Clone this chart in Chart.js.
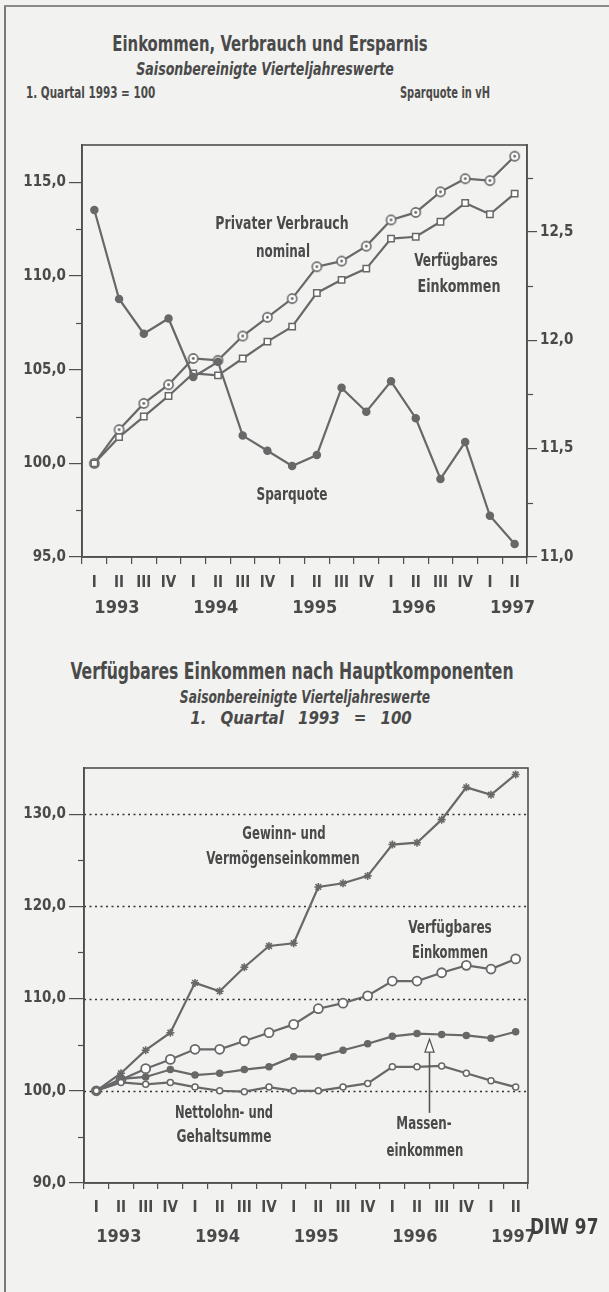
<!DOCTYPE html>
<html>
<head>
<meta charset="utf-8">
<script src="https://cdn.jsdelivr.net/npm/chart.js@4.4.1/dist/chart.umd.min.js"></script>
<style>
  html, body { margin: 0; padding: 0; background: #f2f2f0; }
  #page { position: relative; width: 609px; height: 1292px; overflow: hidden;
          font-family: "Liberation Sans Narrow", "DejaVu Sans Condensed", "Roboto", sans-serif; color: #4a4a4a; }
  #page canvas { position: absolute; left: 0; }
  .t { position: absolute; white-space: nowrap; line-height: 1; font-weight: bold; transform-origin: 0 0; }
  .c { transform-origin: 50% 0; transform: translateX(-50%); text-align: center; }
  .frameL { position: absolute; left: 4px; top: 5px; width: 2px; height: 1300px; background: #7a7a7a; }
  .frameT { position: absolute; left: 4px; top: 5px; width: 620px; height: 2px; background: #8a8a8a; }
</style>
</head>
<body>
<div id="page">
  <div class="frameL"></div>
  <div class="frameT"></div>

  <div class="t c" data-w="315" style="left:270px; top:33px; font-size:22px;">Einkommen, Verbrauch und Ersparnis</div>
  <div class="t c" data-w="257" style="left:265px; top:61px; font-size:17px; font-style:italic;">Saisonbereinigte Vierteljahreswerte</div>
  <div class="t" data-w="129" style="left:26px; top:86px; font-size:15px;">1. Quartal 1993 = 100</div>
  <div class="t" data-w="90" style="left:400px; top:86px; font-size:15px;">Sparquote in vH</div>

  <canvas id="top" width="609" height="490" style="top:130px;"></canvas>

  <div class="t c" data-w="133" style="left:282px; top:215px; font-size:17px;">Privater Verbrauch</div>
  <div class="t c" data-w="54" style="left:283px; top:243px; font-size:17px;">nominal</div>
  <div class="t c" data-w="84" style="left:456px; top:252px; font-size:17px;">Verfügbares</div>
  <div class="t c" data-w="83" style="left:459px; top:278px; font-size:17px;">Einkommen</div>
  <div class="t c" data-w="71" style="left:292px; top:486px; font-size:17px;">Sparquote</div>

  <div class="t c" data-w="443" style="left:292px; top:660px; font-size:23px;">Verfügbares Einkommen nach Hauptkomponenten</div>
  <div class="t c" data-w="250" style="left:305px; top:689px; font-size:17px; font-style:italic;">Saisonbereinigte Vierteljahreswerte</div>
  <div class="t c" data-w="222" style="left:301px; top:710px; font-size:17px; font-style:italic; word-spacing:9px;">1. Quartal 1993 = 100</div>

  <canvas id="bottom" width="609" height="542" style="top:750px;"></canvas>

  <div class="t c" data-w="83" style="left:284px; top:825px; font-size:17px;">Gewinn- und</div>
  <div class="t c" data-w="153" style="left:283px; top:850px; font-size:17px;">Vermögenseinkommen</div>
  <div class="t c" data-w="84" style="left:450px; top:919px; font-size:17px;">Verfügbares</div>
  <div class="t c" data-w="76" style="left:450px; top:944px; font-size:17px;">Einkommen</div>
  <div class="t c" data-w="98" style="left:224px; top:1104px; font-size:17px;">Nettolohn- und</div>
  <div class="t c" data-w="95" style="left:224px; top:1128px; font-size:17px;">Gehaltsumme</div>
  <div class="t c" data-w="55" style="left:424px; top:1115px; font-size:17px;">Massen-</div>
  <div class="t c" data-w="77" style="left:425px; top:1142px; font-size:17px;">einkommen</div>

  <div class="t" data-w="68" style="left:530px; top:1217px; font-size:21px; color:#3f3f3f;">DIW 97</div>
</div>

<script>
// Quartale I/1993 bis II/1997
const quarters = ['I', 'II', 'III', 'IV', 'I', 'II', 'III', 'IV', 'I', 'II', 'III', 'IV', 'I', 'II', 'III', 'IV', 'I', 'II'];
const years = ['1993', '', '', '', '1994', '', '', '', '1995', '', '', '', '1996', '', '', '', '1997', ''];

// Oberes Bild: 1. Quartal 1993 = 100 (links), Sparquote in vH (rechts)
const privaterVerbrauch = [100.0, 101.8, 103.2, 104.2, 105.6, 105.5, 106.8, 107.8, 108.8, 110.5, 110.8, 111.6, 113.0, 113.4, 114.5, 115.2, 115.1, 116.4];
const verfuegbaresEinkommen = [100.0, 101.4, 102.5, 103.6, 104.8, 104.7, 105.6, 106.5, 107.3, 109.1, 109.8, 110.4, 112.0, 112.1, 112.9, 113.9, 113.3, 114.4];
const sparquote = [12.60, 12.19, 12.03, 12.10, 11.83, 11.90, 11.56, 11.49, 11.42, 11.47, 11.78, 11.67, 11.81, 11.64, 11.36, 11.53, 11.19, 11.06];

// Unteres Bild: Hauptkomponenten
const gewinnVermoegen = [100.0, 101.9, 104.4, 106.3, 111.7, 110.8, 113.4, 115.7, 116.0, 122.1, 122.5, 123.3, 126.7, 126.9, 129.4, 132.9, 132.1, 134.3];
const verfuegbaresEinkommen2 = [100.0, 101.2, 102.4, 103.4, 104.5, 104.5, 105.4, 106.3, 107.2, 108.9, 109.5, 110.3, 111.9, 111.9, 112.8, 113.6, 113.2, 114.3];
const masseneinkommen = [100.0, 101.3, 101.5, 102.3, 101.7, 101.9, 102.3, 102.6, 103.7, 103.7, 104.4, 105.1, 105.9, 106.2, 106.1, 106.0, 105.7, 106.4];
const nettolohn = [100.0, 100.9, 100.7, 100.9, 100.4, 100.0, 99.9, 100.4, 100.0, 100.0, 100.4, 100.8, 102.6, 102.6, 102.7, 101.9, 101.1, 100.4];

// Achsen
const topLeftTicks = [95, 117, 2.5, 5];     // min, max, step, label step
const topRightTicks = [11, 12.9, 0.25, 0.5];
const bottomTicks = [90, 135, 5, 10];
const massenArrow = [13.5, 105.6, 97.6];     // Position (Quartal-Index), Spitze, Ende

const LINE = '#686868';
const AXIS = '#4f4f4f';
const TEXT = '#4a4a4a';
const NARROW = '"Liberation Sans Narrow", "DejaVu Sans Condensed", Roboto, sans-serif';

const fmt = v => v.toFixed(1).replace('.', ',');
const isMajor = (v, step) => Math.abs(v / step - Math.round(v / step)) < 1e-6;

// Beschriftungen auf Sollbreite stauchen
document.querySelectorAll('[data-w]').forEach(el => {
    const s = (+el.dataset.w / el.offsetWidth).toFixed(3);
    el.style.transform = (el.classList.contains('c') ? 'translateX(-50%) ' : '') + `scaleX(${s})`;
});

// Kreis mit Punkt als Marker
function ringDot() {
    const c = document.createElement('canvas');
    c.width = 13; c.height = 13;
    const g = c.getContext('2d');
    g.fillStyle = '#fff';
    g.strokeStyle = LINE;
    g.lineWidth = 1.6;
    g.beginPath(); g.arc(6.5, 6.5, 4.6, 0, Math.PI * 2); g.fill(); g.stroke();
    g.fillStyle = LINE;
    g.beginPath(); g.arc(6.5, 6.5, 1.4, 0, Math.PI * 2); g.fill();
    return c;
}

const boxPlugin = {
    id: 'box',
    beforeDatasetsDraw(chart, args, opts) {
        const { ctx, chartArea: a } = chart;
        ctx.save();
        // gepunktete Hilfslinien
        if (opts.dotted) {
            const s = chart.scales.y;
            ctx.strokeStyle = '#333';
            ctx.lineWidth = 1.3;
            ctx.setLineDash([2, 3.5]);
            s.ticks.forEach(t => {
                if (t.value <= s.min || !isMajor(t.value, opts.dotted)) return;
                const py = Math.round(s.getPixelForValue(t.value)) + 0.5;
                ctx.beginPath(); ctx.moveTo(a.left, py); ctx.lineTo(a.right, py); ctx.stroke();
            });
            ctx.setLineDash([]);
        }
        ctx.strokeStyle = AXIS;
        ctx.lineWidth = 1.6;
        ctx.strokeRect(a.left, a.top, a.right - a.left, a.bottom - a.top);
        ctx.restore();
    },
    afterDraw(chart, args, opts) {
        const ctx = chart.ctx;
        ctx.save();
        ctx.strokeStyle = AXIS;
        ctx.lineWidth = 1.2;
        (opts.minor || []).forEach(([id, step]) => {
            const s = chart.scales[id];
            const left = s.position === 'left';
            const x0 = left ? s.right : s.left;
            s.ticks.forEach(t => {
                if (isMajor(t.value, step) || t.value >= s.max) return;
                const py = Math.round(s.getPixelForValue(t.value)) + 0.5;
                ctx.beginPath(); ctx.moveTo(x0, py); ctx.lineTo(x0 + (left ? -6 : 6), py); ctx.stroke();
            });
        });
        if (opts.arrow) {
            const [idx, tip, end] = opts.arrow;
            const x = Math.round(chart.scales.x.getPixelForValue(idx)) + 0.5;
            const yTip = chart.scales.y.getPixelForValue(tip);
            const yEnd = chart.scales.y.getPixelForValue(end);
            ctx.strokeStyle = '#555';
            ctx.lineWidth = 1.6;
            ctx.beginPath(); ctx.moveTo(x, yEnd); ctx.lineTo(x, yTip + 13); ctx.stroke();
            ctx.fillStyle = '#fff';
            ctx.lineWidth = 1.3;
            ctx.beginPath();
            ctx.moveTo(x, yTip); ctx.lineTo(x - 4.5, yTip + 13); ctx.lineTo(x + 4.5, yTip + 13); ctx.closePath();
            ctx.fill(); ctx.stroke();
        }
        ctx.restore();
    }
};

function xScales(tickLen, qPad, yPad) {
    return {
        x: {
            type: 'category', offset: true, position: 'bottom',
            grid: { display: true, offset: true, drawOnChartArea: false, tickLength: tickLen, color: AXIS, lineWidth: 1.2 },
            border: { display: true, color: AXIS, width: 1.6 },
            ticks: { autoSkip: false, maxRotation: 0, padding: qPad, color: TEXT, font: { family: NARROW, size: 15, weight: 'bold' } },
            afterFit: s => { s.height = 33; }
        },
        xYear: {
            type: 'category', offset: true, position: 'bottom', labels: years,
            grid: { display: false, drawTicks: false },
            border: { display: false },
            ticks: { autoSkip: false, maxRotation: 0, align: 'start', padding: yPad, color: TEXT, font: { family: NARROW, size: 18, weight: 'bold' } },
            afterFit: s => { s.height = 30; }
        }
    };
}

function yScale(pos, t, width, tickLen) {
    const [min, max, step, labelStep] = t;
    return {
        position: pos, min: min, max: max,
        grid: {
            display: true, drawOnChartArea: false, tickLength: tickLen, lineWidth: 1.2,
            tickColor: c => isMajor(c.tick.value, labelStep) ? AXIS : 'rgba(0,0,0,0)'
        },
        border: { display: true, color: AXIS, width: 1.6 },
        ticks: {
            stepSize: step, includeBounds: false, padding: 3, color: TEXT,
            font: { family: NARROW, size: 15, weight: 'bold' },
            callback: v => isMajor(v, labelStep) ? fmt(v) : ''
        },
        afterFit: s => { s.width = width; }
    };
}

const lineBase = { borderColor: LINE, borderWidth: 2.2, tension: 0, pointBorderColor: LINE, pointBorderWidth: 1.5 };

new Chart(document.getElementById('top'), {
    type: 'line',
    data: {
        labels: quarters,
        datasets: [
            { ...lineBase, label: 'Sparquote', data: sparquote, yAxisID: 'y1', pointStyle: 'circle', pointRadius: 3.5, pointBackgroundColor: LINE },
            { ...lineBase, label: 'Verfügbares Einkommen', data: verfuegbaresEinkommen, yAxisID: 'y', pointStyle: 'rect', pointRadius: 4.5, pointBackgroundColor: '#fff' },
            { ...lineBase, label: 'Privater Verbrauch nominal', data: privaterVerbrauch, yAxisID: 'y', pointStyle: ringDot(), pointRadius: 5 }
        ]
    },
    options: {
        responsive: false, animation: false, events: [],
        layout: { padding: { top: 15, bottom: 0, left: 0, right: 0 } },
        plugins: { legend: { display: false }, tooltip: { enabled: false },
                   box: { minor: [['y', 5], ['y1', 0.5]] } },
        scales: {
            ...xScales(7, 10, 8),
            y: yScale('left', topLeftTicks, 82, 13),
            y1: yScale('right', topRightTicks, 82, 10)
        }
    },
    plugins: [boxPlugin]
});

new Chart(document.getElementById('bottom'), {
    type: 'line',
    data: {
        labels: quarters,
        datasets: [
            { ...lineBase, label: 'Nettolohn- und Gehaltsumme', data: nettolohn, pointStyle: 'circle', pointRadius: 3, pointBackgroundColor: '#fff' },
            { ...lineBase, label: 'Masseneinkommen', data: masseneinkommen, pointStyle: 'circle', pointRadius: 3, pointBackgroundColor: LINE },
            { ...lineBase, label: 'Gewinn- und Vermögenseinkommen', data: gewinnVermoegen, pointStyle: 'star', pointRadius: 4, pointBorderWidth: 1.6 },
            { ...lineBase, label: 'Verfügbares Einkommen', data: verfuegbaresEinkommen2, pointStyle: 'circle', pointRadius: 4.5, pointBackgroundColor: '#fff', pointBorderWidth: 1.8 }
        ]
    },
    options: {
        responsive: false, animation: false, events: [],
        layout: { padding: { top: 18, bottom: 46, left: 0, right: 81 } },
        plugins: { legend: { display: false }, tooltip: { enabled: false },
                   box: { dotted: 10, minor: [['y', 10]], arrow: massenArrow } },
        scales: {
            ...xScales(6, 10, 11),
            y: yScale('left', bottomTicks, 84, 15)
        }
    },
    plugins: [boxPlugin]
});
</script>
</body>
</html>
